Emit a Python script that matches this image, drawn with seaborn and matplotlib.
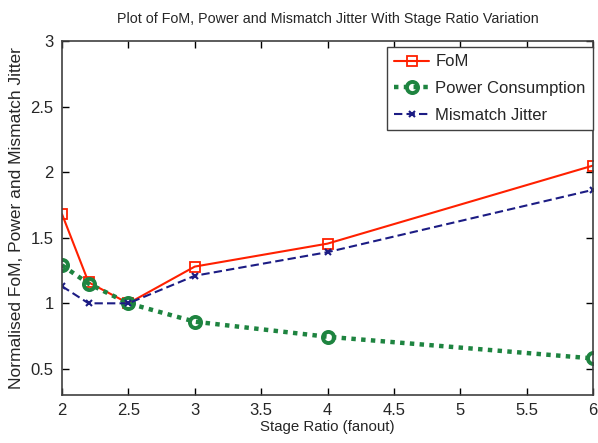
import matplotlib
matplotlib.use("Agg")
import matplotlib.pyplot as plt
import seaborn as sns
import pandas as pd

stage_ratio = [2.0, 2.2, 2.5, 3.0, 4.0, 6.0]
fom = [1.68, 1.16, 1.00, 1.28, 1.455, 2.05]
power = [1.29, 1.15, 1.00, 0.86, 0.745, 0.58]
jitter = [1.13, 1.00, 1.00, 1.21, 1.39, 1.865]
series_names = ["FoM", "Power Consumption", "Mismatch Jitter"]
x_ticks = [2, 2.5, 3, 3.5, 4, 4.5, 5, 5.5, 6]
y_ticks = [0.5, 1, 1.5, 2, 2.5, 3]

sns.set_theme(style="white")
plt.rcParams['font.family'] = ['Liberation Sans', 'DejaVu Sans']

fig = plt.figure(figsize=(5.98, 4.43), dpi=100)
ax = fig.add_axes([0.1037, 0.108, 0.888, 0.7996])

sns.lineplot(x=stage_ratio, y=fom, ax=ax, color="#ff2000", linestyle="-", linewidth=1.5,
             marker="s", markersize=7, markerfacecolor="none", markeredgecolor="#ff2000",
             markeredgewidth=1.3, label=series_names[0])
sns.lineplot(x=stage_ratio, y=power, ax=ax, color="#1e8440", linestyle=(0, (1, 1.2)), linewidth=3.2,
             marker="o", markersize=8, markerfacecolor="none", markeredgecolor="#1e8440",
             markeredgewidth=2.8, label=series_names[1])
sns.lineplot(x=stage_ratio, y=jitter, ax=ax, color="#1c1c84", linestyle=(0, (4, 2)), linewidth=1.5,
             marker="x", markersize=4, markeredgewidth=1.5, markeredgecolor="#1c1c84",
             label=series_names[2])

ax.set_xlim(2, 6)
ax.set_ylim(0.3, 3)
ax.set_xticks(x_ticks)
ax.set_xticklabels([f"{t:g}" for t in x_ticks])
ax.set_yticks(y_ticks)
ax.set_yticklabels([f"{t:g}" for t in y_ticks])
ax.tick_params(direction="in", length=5, width=1, color="black", labelsize=12,
               top=True, right=True, bottom=True, left=True, pad=6)
for s in ax.spines.values():
    s.set_visible(True)
    s.set_color("#404040")
    s.set_linewidth(1.2)

ax.set_title("Plot of FoM, Power and Mismatch Jitter With Stage Ratio Variation",
             fontsize=10.3, pad=13)
ax.set_xlabel("Stage Ratio (fanout)", fontsize=10.8, labelpad=1)
ax.set_ylabel("Normalised FoM, Power and Mismatch Jitter", fontsize=12.5, labelpad=5)

leg = ax.legend(loc="upper right", bbox_to_anchor=(1.0, 1 - 6 / 354), fontsize=12,
                frameon=True, fancybox=False, edgecolor="#404040", framealpha=1,
                borderaxespad=0, handlelength=2.1, handletextpad=0.35,
                labelspacing=0.7, borderpad=0.45)
leg.get_frame().set_linewidth(1.0)

fig.savefig("out.png", dpi=100)
